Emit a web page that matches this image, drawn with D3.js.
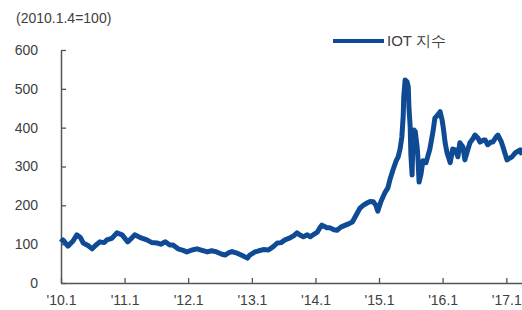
<!DOCTYPE html>
<html>
<head>
<meta charset="utf-8">
<script src="https://cdn.jsdelivr.net/npm/d3@7"></script>
<style>
  body { margin: 0; background: #fff; }
  svg { display: block; font-family: "Liberation Sans", Arial, sans-serif; }
</style>
</head>
<body>
<div id="chart"></div>
<script>
// decimal year positions and IOT index values
const years = [
  2010.00, 2010.03, 2010.11, 2010.19, 2010.25, 2010.30, 2010.35, 2010.43, 2010.49, 2010.55,
  2010.61, 2010.68, 2010.72, 2010.80, 2010.88, 2010.96, 2011.05, 2011.10, 2011.16, 2011.26,
  2011.35, 2011.43, 2011.51, 2011.57, 2011.64, 2011.71, 2011.76, 2011.84, 2011.92, 2011.98,
  2012.06, 2012.14, 2012.22, 2012.30, 2012.37, 2012.45, 2012.53, 2012.58, 2012.64, 2012.69,
  2012.78, 2012.86, 2012.93, 2012.97, 2013.05, 2013.11, 2013.18, 2013.26, 2013.33, 2013.40,
  2013.46, 2013.52, 2013.60, 2013.66, 2013.71, 2013.76, 2013.81, 2013.87, 2013.92, 2013.98,
  2014.03, 2014.07, 2014.10, 2014.15, 2014.18, 2014.23, 2014.29, 2014.34, 2014.40, 2014.47,
  2014.53, 2014.58, 2014.64, 2014.70, 2014.75, 2014.81, 2014.86, 2014.91, 2014.95, 2014.98,
  2015.03, 2015.09, 2015.14, 2015.17, 2015.22, 2015.27, 2015.30, 2015.33, 2015.36, 2015.38,
  2015.39, 2015.41, 2015.44, 2015.46, 2015.47, 2015.49, 2015.50, 2015.52, 2015.53, 2015.55,
  2015.57, 2015.60, 2015.61, 2015.63, 2015.66, 2015.69, 2015.74, 2015.80, 2015.85, 2015.88,
  2015.91, 2015.96, 2015.99, 2016.01, 2016.04, 2016.07, 2016.12, 2016.16, 2016.20, 2016.24,
  2016.27, 2016.32, 2016.35, 2016.40, 2016.43, 2016.48, 2016.51, 2016.56, 2016.59, 2016.64,
  2016.67, 2016.71, 2016.76, 2016.79, 2016.84, 2016.87, 2016.92, 2016.95, 2017.01, 2017.06,
  2017.09, 2017.14, 2017.17, 2017.22, 2017.25
];
const values = [
  105, 111, 95, 108, 124, 118, 103, 96, 88, 98,
  106, 104, 111, 115, 129, 124, 106, 114, 124, 116,
  111, 104, 103, 100, 106, 98, 98, 88, 84, 80,
  85, 88, 84, 80, 83, 80, 74, 72, 78, 81,
  76, 70, 64, 72, 80, 83, 86, 85, 93, 103,
  104, 111, 116, 122, 129, 123, 119, 124, 119, 126,
  131, 143, 149, 145, 142, 142, 137, 136, 144, 149,
  153, 157, 175, 193, 200, 206, 210, 209, 200, 185,
  210, 232, 245, 265, 291, 315, 325, 345, 376, 430,
  480, 523, 518, 505, 450, 402, 330, 278, 360, 394,
  390, 350, 325, 260, 280, 315, 310, 345, 390, 425,
  430, 441, 420, 400, 360, 335, 310, 345, 343, 325,
  361, 350, 317, 345, 361, 372, 381, 372, 363, 368,
  368, 356, 363, 363, 376, 381, 365, 350, 317, 322,
  325, 335, 338, 343, 330
];
const yTicks = [0, 100, 200, 300, 400, 500, 600];
const xTickYears = [2010, 2011, 2012, 2013, 2014, 2015, 2016, 2017];
const seriesName = "IOT 지수";
const unitLabel = "(2010.1.4=100)";

const toDate = v => {
  const yr = Math.floor(v);
  return new Date(yr, 0, 1 + Math.round((v - yr) * 365.25));
};
const data = years.map((v, i) => ({ date: toDate(v), value: values[i] }));

const width = 522, height = 310;
const plot = { left: 61, right: 522, top: 50, bottom: 283 };
const textColor = "#404040";
const axisColor = "#555";
const lineColor = "#0f4b95";

const svg = d3.select("#chart").append("svg")
  .attr("width", width)
  .attr("height", height);

const x = d3.scaleTime()
  .domain([new Date(2010, 0, 1), new Date(2017, 3, 1)])
  .range([plot.left, plot.right]);

const y = d3.scaleLinear()
  .domain([0, 600])
  .range([plot.bottom, plot.top]);

// x axis
const xAxis = svg.append("g")
  .attr("transform", `translate(0,${plot.bottom})`)
  .call(d3.axisBottom(x)
    .tickValues(xTickYears.map(yr => new Date(yr, 0, 1)))
    .tickSize(-5)
    .tickSizeOuter(0)
    .tickPadding(12)
    .tickFormat(d => "'" + d3.timeFormat("%y")(d) + ".1"));
xAxis.select(".domain").attr("stroke", axisColor).attr("stroke-width", 1.5);
xAxis.selectAll(".tick line").attr("stroke", axisColor).attr("stroke-width", 1.3);
xAxis.selectAll(".tick text")
  .attr("fill", textColor)
  .style("font-size", "14px");

// y axis
const yAxis = svg.append("g")
  .attr("transform", `translate(${plot.left},0)`)
  .call(d3.axisLeft(y)
    .tickValues(yTicks)
    .tickSize(-5)
    .tickSizeOuter(0)
    .tickPadding(23));
yAxis.select(".domain").attr("stroke", axisColor).attr("stroke-width", 1.5);
yAxis.selectAll(".tick line").attr("stroke", axisColor).attr("stroke-width", 1.3);
yAxis.selectAll(".tick text")
  .attr("fill", textColor)
  .style("font-size", "14px");

// unit label
svg.append("text")
  .attr("x", 16)
  .attr("y", 23)
  .attr("fill", textColor)
  .style("font-size", "14px")
  .text(unitLabel);

// line
const line = d3.line()
  .x(d => x(d.date))
  .y(d => y(d.value));

svg.append("path")
  .datum(data)
  .attr("fill", "none")
  .attr("stroke", lineColor)
  .attr("stroke-width", 5)
  .attr("stroke-linejoin", "round")
  .attr("d", line);

// legend
svg.append("line")
  .attr("x1", 333)
  .attr("x2", 384)
  .attr("y1", 41)
  .attr("y2", 41)
  .attr("stroke", lineColor)
  .attr("stroke-width", 4);

svg.append("text")
  .attr("x", 387)
  .attr("y", 46)
  .attr("fill", textColor)
  .style("font-size", "15px")
  .text(seriesName);
</script>
</body>
</html>
